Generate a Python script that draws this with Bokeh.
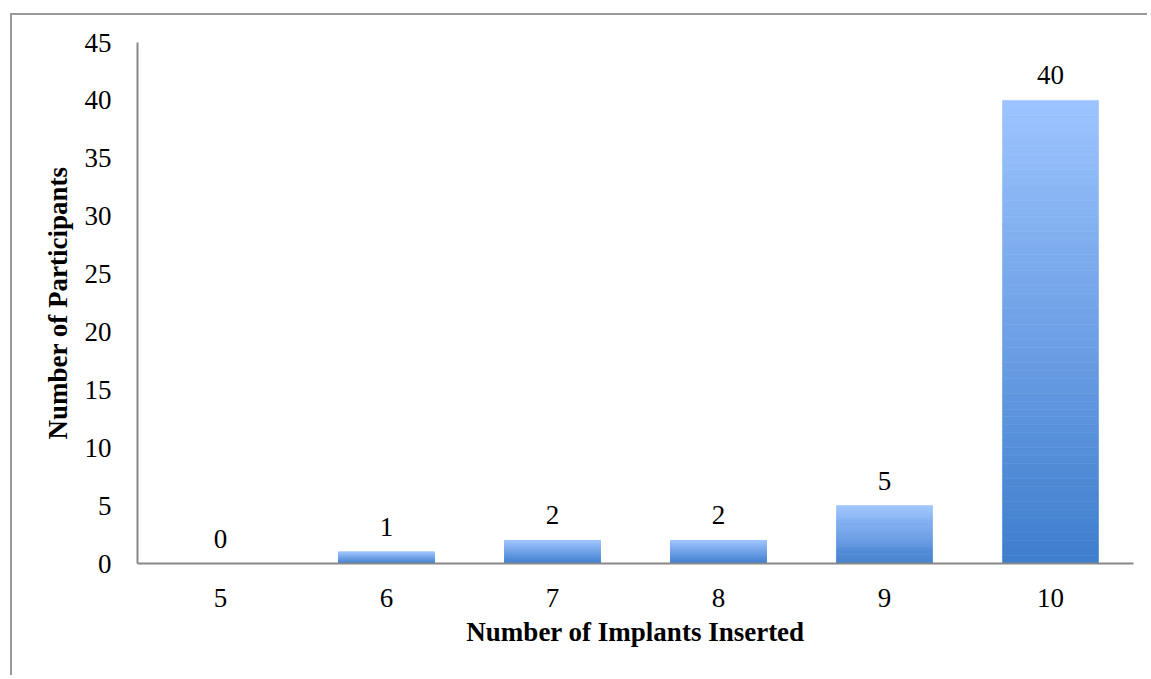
from bokeh.plotting import figure
from bokeh.models import ColumnDataSource, FactorRange, Range1d, SingleIntervalTicker
from bokeh.core.properties import value
from bokeh.embed import file_html
from bokeh.resources import INLINE

# ---- data ----
implants = ["5", "6", "7", "8", "9", "10"]
participants = [0, 1, 2, 2, 5, 40]
x_title = "Number of Implants Inserted"
y_title = "Number of Participants"

FONT = "Liberation Serif"
TOP_COLOR = (157, 196, 255)
BOT_COLOR = (62, 125, 205)
N_SLICES = 60

p = figure(
    width=1137, height=662,
    x_range=FactorRange(*implants, range_padding=0),
    y_range=Range1d(0, 45),
    output_backend="svg", toolbar_location=None,
    min_border_left=125, min_border_right=16,
    min_border_top=27, min_border_bottom=114,
    margin=(13, 0, 0, 10),
    styles={"border-left": "2px solid #9a9a9a", "border-top": "2px solid #9a9a9a"},
)
p.outline_line_color = None
p.grid.grid_line_color = None
p.background_fill_color = "white"
p.border_fill_color = "white"

# gradient bars: each bar split into slices from bottom (dark) to top (light)
xs, bottoms, tops, colors = [], [], [], []
for cat, v in zip(implants, participants):
    if v <= 0:
        continue
    for k in range(N_SLICES):
        t = (k + 0.5) / N_SLICES
        c = tuple(int(round(BOT_COLOR[j] + (TOP_COLOR[j] - BOT_COLOR[j]) * t)) for j in range(3))
        xs.append(cat)
        bottoms.append(v * k / N_SLICES)
        tops.append(v * (k + 1) / N_SLICES)
        colors.append("#%02x%02x%02x" % c)

src = ColumnDataSource(dict(x=xs, bottom=bottoms, top=tops, color=colors))
p.vbar(x="x", bottom="bottom", top="top", width=0.578, fill_color="color",
       line_color="color", line_width=0.6, source=src)

# data labels
lab = ColumnDataSource(dict(x=implants, y=participants, t=[str(v) for v in participants]))
p.text(x="x", y="y", text="t", source=lab, text_align="center", text_baseline="bottom",
       y_offset=-16, text_font=value(FONT), text_font_size="27px", text_color="#000000")

# axes
for ax in (p.xaxis[0], p.yaxis[0]):
    ax.axis_line_color = "#888888"
    ax.axis_line_width = 2
    ax.major_tick_line_color = None
    ax.minor_tick_line_color = None
    ax.major_label_text_font = FONT
    ax.major_label_text_font_size = "27px"
    ax.major_label_text_color = "#000000"
    ax.axis_label_text_font = FONT
    ax.axis_label_text_font_style = "bold"
    ax.axis_label_text_font_size = "27px"
    ax.axis_label_text_color = "#000000"

p.yaxis[0].ticker = SingleIntervalTicker(interval=5)
p.yaxis[0].major_label_standoff = 20
p.yaxis[0].axis_label = y_title
p.yaxis[0].axis_label_standoff = 9

p.xaxis[0].major_label_standoff = 19
p.xaxis[0].axis_label = x_title
p.xaxis[0].axis_label_standoff = 7

open("out.html", "w").write(file_html(p, INLINE))
